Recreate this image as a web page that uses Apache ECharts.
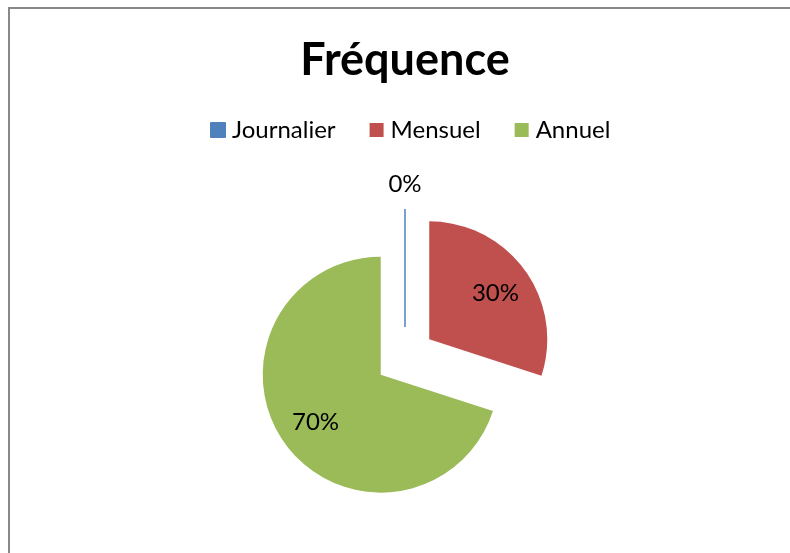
<!DOCTYPE html>
<html>
<head>
<meta charset="utf-8">
<script src="https://cdn.jsdelivr.net/npm/echarts@6/dist/echarts.min.js"></script>
<style>
  html, body { margin: 0; padding: 0; background: #fff; }
  #main { width: 790px; height: 553px; }
</style>
</head>
<body>
<div id="main"></div>
<script>
// données du graphique
var categories = ["Journalier", "Mensuel", "Annuel"];
var values = [0, 30, 70];
var colors = ["#4F81BD", "#C0504D", "#9BBB59"];

// déplacement des étiquettes (style)
var labelShift = [[0, -81], [16, -10], [-15, 11]];

var chart = echarts.init(document.getElementById("main"));

var pieData = categories.map(function (name, i) {
  var item = {
    name: name,
    value: values[i],
    selected: true,
    itemStyle: { color: colors[i] }
  };
  if (values[i] === 0) {
    // part nulle : on ne voit que le trait
    item.itemStyle.borderColor = colors[i];
    item.itemStyle.borderWidth = 1;
  }
  return item;
});

chart.setOption({
  animation: false,
  graphic: [
    {
      type: "rect",
      shape: { x: 9, y: 8, width: 800, height: 560 },
      style: { fill: "none", stroke: "#888", lineWidth: 2 }
    }
  ],
  title: {
    text: "Fréquence",
    left: 400,
    textAlign: "center",
    top: 33,
    textStyle: {
      fontFamily: "Lato",
      fontWeight: "bold",
      fontSize: 45,
      color: "#000"
    }
  },
  legend: {
    top: 118,
    left: 210,
    padding: 0,
    itemWidth: 14,
    itemHeight: 14,
    itemGap: 34,
    icon: "rect",
    selectedMode: false,
    textStyle: { fontFamily: "Lato", fontSize: 24, color: "#000", padding: [0, 0, 0, 2] },
    data: categories
  },
  series: [
    {
      type: "pie",
      center: [405, 357],
      radius: 118,
      startAngle: 90,
      clockwise: true,
      selectedMode: "multiple",
      selectedOffset: 30,
      stillShowZeroSum: true,
      emphasis: { disabled: true },
      label: {
        show: true,
        position: "inside",
        formatter: "{d}%",
        fontFamily: "Lato",
        fontSize: 24,
        color: "#000"
      },
      labelLine: { show: false },
      labelLayout: function (params) {
        var s = labelShift[params.dataIndex];
        return { dx: s[0], dy: s[1] };
      },
      data: pieData
    }
  ]
});
</script>
</body>
</html>
